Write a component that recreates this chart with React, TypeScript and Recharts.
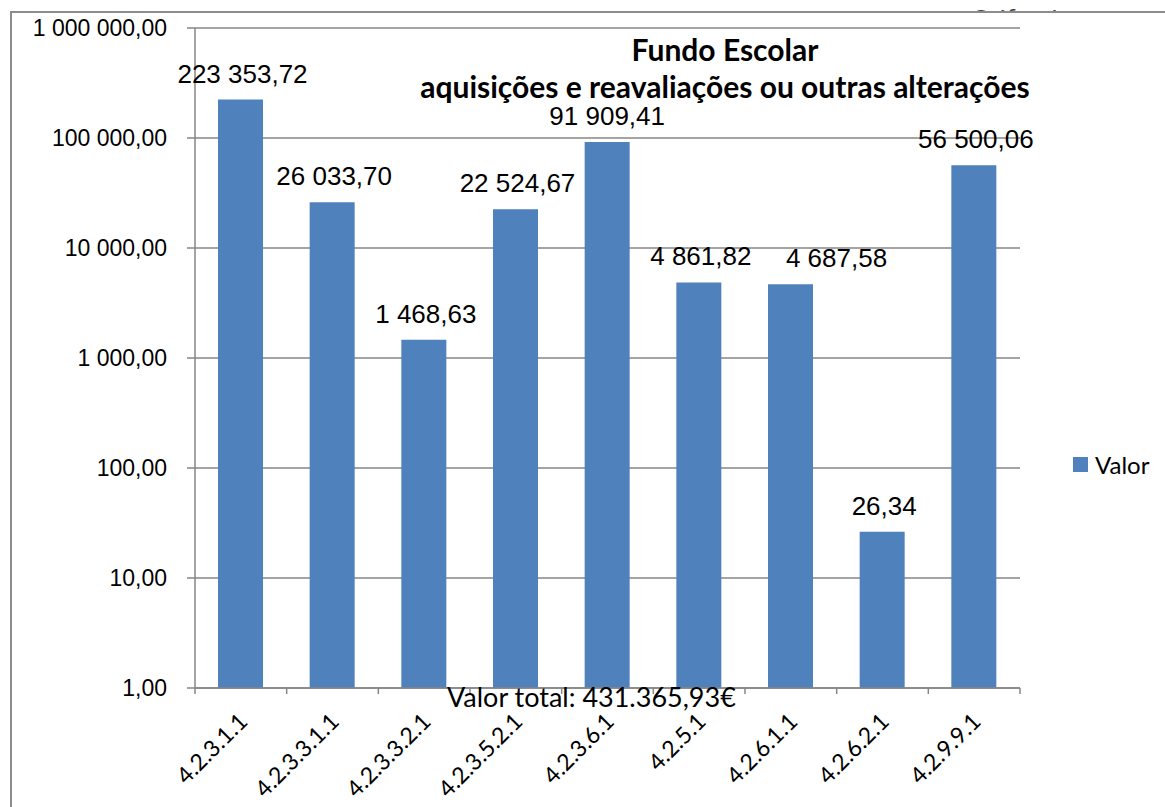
import { BarChart, Bar, XAxis, YAxis, CartesianGrid, Legend, LabelList } from 'recharts';

const categorias = [
    '4.2.3.1.1',
    '4.2.3.3.1.1',
    '4.2.3.3.2.1',
    '4.2.3.5.2.1',
    '4.2.3.6.1',
    '4.2.5.1',
    '4.2.6.1.1',
    '4.2.6.2.1',
    '4.2.9.9.1',
];
const valores = [223353.72, 26033.7, 1468.63, 22524.67, 91909.41, 4861.82, 4687.58, 26.34, 56500.06];
const yTicks = [1, 10, 100, 1000, 10000, 100000, 1000000];

// small horizontal nudges of the data labels, as in the original chart
const labelDx = [2, 2, 2, 2, 0, 2, 46, 2, 2];

const data = categorias.map((c, i) => ({ cat: c, Valor: valores[i] }));

const W = 1165;
const H = 807;
const PLOT_LEFT = 195;
const PLOT_RIGHT = 1020;
const PLOT_TOP = 28;
const PLOT_BOTTOM = 688;
const X_AXIS_H = 30;
const BAND = (PLOT_RIGHT - PLOT_LEFT) / categorias.length;
const GRID = '#868686';
const BLUE = '#4F81BD';
const CALIBRI = 'Lato, "Open Sans", sans-serif';
const ARIAL = '"Liberation Sans", Arial, sans-serif';

const fmt = (v: number) => {
    const [int, dec] = v.toFixed(2).split('.');
    return int.replace(/\B(?=(\d{3})+(?!\d))/g, ' ') + ',' + dec;
};

const CatTick = (props: any) => {
    const { x, y, payload, index } = props;
    const half = BAND / 2;
    return (
        <g>
            <line x1={x - half} x2={x - half} y1={y} y2={y + 6} stroke={GRID} strokeWidth={1.5} />
            {index === categorias.length - 1 && (
                <line x1={x + half} x2={x + half} y1={y} y2={y + 6} stroke={GRID} strokeWidth={1.5} />
            )}
            <text
                transform={`translate(${x + 8},${y + 35}) rotate(-45)`}
                textAnchor="end"
                fontSize={23}
                fontFamily={CALIBRI}
                fill="#000"
            >
                {payload.value}
            </text>
        </g>
    );
};

const ValueLabel = (props: any) => {
    const { x, y, width, value, index } = props;
    return (
        <text
            x={x + width / 2 + (labelDx[index] || 0)}
            y={y - 17}
            textAnchor="middle"
            fontSize={26}
            fontFamily={ARIAL}
            fill="#000"
        >
            {fmt(value)}
        </text>
    );
};

const LegendContent = () => (
    <div style={{ display: 'flex', alignItems: 'center', fontFamily: CALIBRI, fontSize: 24, color: '#000' }}>
        <span style={{ width: 15, height: 15, background: BLUE, display: 'inline-block', marginRight: 7 }} />
        <span>Valor</span>
    </div>
);

const App = () => (
    <div style={{ position: 'absolute', left: 0, top: 0, width: W, height: H, overflow: 'hidden', background: '#fff' }}>
        {/* partially hidden caption behind the frame */}
        <div style={{ position: 'absolute', left: 972, top: 0, height: 12, overflow: 'hidden' }}>
            <div style={{ marginTop: 6, fontFamily: CALIBRI, fontSize: 22, color: '#444', lineHeight: '22px' }}>Gráfico 1</div>
        </div>
        <div style={{ position: 'absolute', left: 10, top: 11, width: W + 20, height: H + 20, border: '2px solid #8c8c8c' }} />

        <div style={{ position: 'absolute', left: 0, top: 0 }}>
            <BarChart
                width={W}
                height={H}
                data={data}
                margin={{ top: PLOT_TOP, right: W - PLOT_RIGHT, bottom: H - PLOT_BOTTOM - X_AXIS_H, left: 10 }}
            >
                <CartesianGrid vertical={false} stroke={GRID} strokeWidth={1.5} />
                <XAxis
                    dataKey="cat"
                    interval={0}
                    height={X_AXIS_H}
                    tickLine={false}
                    tickSize={0}
                    tickMargin={0}
                    axisLine={{ stroke: GRID, strokeWidth: 1.5 }}
                    tick={<CatTick />}
                />
                <YAxis
                    scale="log"
                    domain={[1, 1000000]}
                    ticks={yTicks}
                    allowDataOverflow
                    width={185}
                    tickSize={8}
                    tickMargin={20}
                    tickFormatter={fmt}
                    axisLine={{ stroke: GRID, strokeWidth: 1.5 }}
                    tickLine={{ stroke: GRID, strokeWidth: 1.5 }}
                    tick={{ fontSize: 23, fill: '#000', fontFamily: ARIAL }}
                />
                <Legend
                    layout="vertical"
                    align="center"
                    verticalAlign="middle"
                    content={<LegendContent />}
                    wrapperStyle={{ left: 1073, top: 450, width: 90 }}
                />
                <Bar dataKey="Valor" fill={BLUE} barSize={45} isAnimationActive={false}>
                    <LabelList dataKey="Valor" content={<ValueLabel />} />
                </Bar>
            </BarChart>
        </div>

        <div
            style={{
                position: 'absolute',
                left: 420,
                width: 610,
                top: 31,
                textAlign: 'center',
                fontFamily: CALIBRI,
                fontWeight: 700,
                fontSize: 30,
                lineHeight: '37px',
                color: '#000',
                whiteSpace: 'nowrap',
            }}
        >
            <div>Fundo Escolar</div>
            <div>aquisições e reavaliações ou outras alterações</div>
        </div>

        <div
            style={{
                position: 'absolute',
                left: 447,
                top: 683,
                fontFamily: CALIBRI,
                fontSize: 27,
                lineHeight: '28px',
                color: '#000',
                whiteSpace: 'nowrap',
            }}
        >
            Valor total: 431.365,93€
        </div>
    </div>
);

export default App;
